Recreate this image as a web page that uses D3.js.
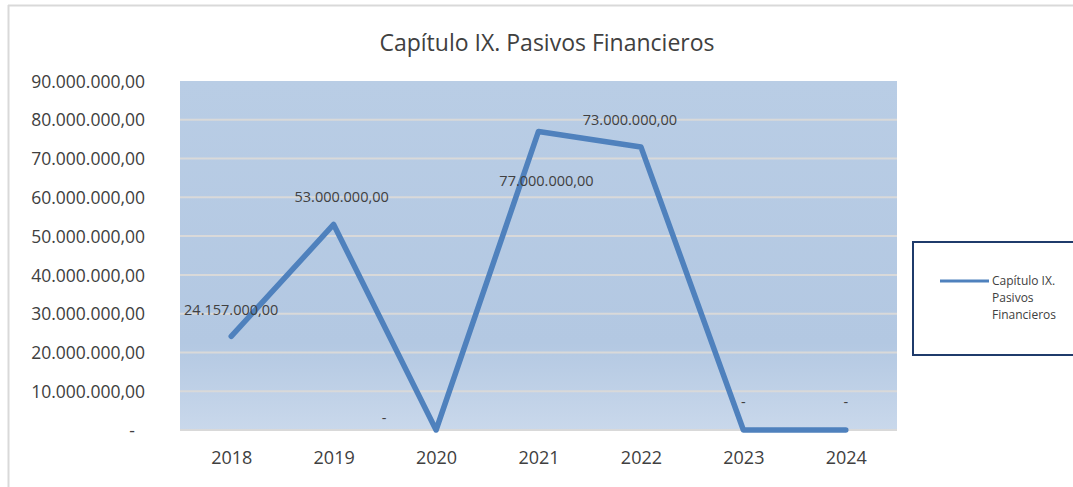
<!DOCTYPE html>
<html>
<head>
<meta charset="utf-8">
<script src="https://cdn.jsdelivr.net/npm/d3@7"></script>
<style>
body { margin: 0; background: #fff; }
text { font-family: "Open Sans", "Noto Sans", sans-serif; }
</style>
</head>
<body>
<div id="chart"></div>
<script>
// Chart data
const years = ["2018", "2019", "2020", "2021", "2022", "2023", "2024"];
const values = [24157000, 53000000, 0, 77000000, 73000000, 0, 0];
const yTicks = [0, 10000000, 20000000, 30000000, 40000000, 50000000, 60000000, 70000000, 80000000, 90000000];
const seriesName = ["Capítulo IX.", "Pasivos", "Financieros"];
// label offsets relative to the point (dx, dy)
const labelOffsets = [[0, -26], [8, -28], [-52, -12], [8, 50], [-11, -27], [0, -28], [0, -28]];

const width = 1073, height = 487;
const plot = { left: 180, right: 897, top: 81, bottom: 430 };

const fmt = v => v === 0 ? "-" : d3.format(",.2f")(v).replace(/,/g, "#").replace(/\./g, ",").replace(/#/g, ".");

const svg = d3.select("#chart").append("svg").attr("width", width).attr("height", height);

// outer frame
svg.append("line").attr("x1", 8).attr("x2", width).attr("y1", 5.5).attr("y2", 5.5).attr("stroke", "#d9d9d9").attr("stroke-width", 2);
svg.append("line").attr("x1", 8.5).attr("x2", 8.5).attr("y1", 5).attr("y2", height).attr("stroke", "#d9d9d9").attr("stroke-width", 2);

const x = d3.scalePoint().domain(years).range([plot.left, plot.right]).padding(0.5);
const y = d3.scaleLinear().domain([0, 90000000]).range([plot.bottom, plot.top]);

const grad = svg.append("defs").append("linearGradient").attr("id", "bg").attr("x1", 0).attr("x2", 0).attr("y1", 0).attr("y2", 1);
grad.append("stop").attr("offset", "0%").attr("stop-color", "#b9cde5");
grad.append("stop").attr("offset", "75%").attr("stop-color", "#b3c8e2");
grad.append("stop").attr("offset", "100%").attr("stop-color", "#c9d8eb");

svg.append("rect").attr("x", plot.left).attr("y", plot.top)
  .attr("width", plot.right - plot.left).attr("height", plot.bottom - plot.top).attr("fill", "url(#bg)");

// gridlines
svg.append("g").selectAll("line").data(yTicks.slice(1, -1)).enter().append("line")
  .attr("x1", plot.left).attr("x2", plot.right)
  .attr("y1", d => y(d)).attr("y2", d => y(d))
  .attr("stroke", "#d9d9d9").attr("stroke-width", 2);
svg.append("line").attr("x1", plot.left).attr("x2", plot.right)
  .attr("y1", plot.bottom).attr("y2", plot.bottom).attr("stroke", "#d9d9d9").attr("stroke-width", 2);

// axes
const yAxis = svg.append("g").attr("transform", `translate(${plot.left - 32},0)`)
  .call(d3.axisLeft(y).tickValues(yTicks).tickFormat(fmt).tickSize(0));
yAxis.select(".domain").remove();
yAxis.selectAll("text").attr("font-size", 17.5).attr("fill", "#404040").attr("dy", "0.35em")
  .attr("font-family", "'Open Sans', sans-serif");
yAxis.selectAll("text").filter(d => d === 0).attr("dx", -10);

const xAxis = svg.append("g").attr("transform", `translate(0,${plot.bottom + 18})`)
  .call(d3.axisBottom(x).tickSize(0));
xAxis.select(".domain").remove();
xAxis.selectAll("text").attr("font-size", 18).attr("fill", "#404040");

// line
svg.append("path").datum(values)
  .attr("fill", "none").attr("stroke", "#4f81bd").attr("stroke-width", 5.5)
  .attr("stroke-linecap", "round").attr("stroke-linejoin", "round")
  .attr("d", d3.line().x((d, i) => x(years[i])).y(d => y(d)));

// data labels
svg.append("g").selectAll("text").data(values).enter().append("text")
  .attr("x", (d, i) => x(years[i]) + labelOffsets[i][0])
  .attr("y", (d, i) => y(d) + labelOffsets[i][1])
  .attr("text-anchor", "middle").attr("dy", "0.35em")
  .attr("font-size", 14.5).attr("fill", "#404040")
  .text(fmt);

// title
svg.append("text").attr("x", 547).attr("y", 43).attr("text-anchor", "middle").attr("dy", "0.35em")
  .attr("font-size", 23).attr("fill", "#404040").text("Capítulo IX. Pasivos Financieros");

// legend
svg.append("rect").attr("x", 913).attr("y", 242).attr("width", 175).attr("height", 113)
  .attr("fill", "#fff").attr("stroke", "#1f3b6b").attr("stroke-width", 2);
svg.append("line").attr("x1", 940).attr("x2", 989).attr("y1", 281).attr("y2", 281)
  .attr("stroke", "#4f81bd").attr("stroke-width", 3);
svg.append("text").attr("font-size", 12).attr("fill", "#404040")
  .selectAll("tspan").data(seriesName).enter().append("tspan")
  .attr("x", 992).attr("y", (d, i) => 285 + i * 17).text(d => d);
</script>
</body>
</html>
